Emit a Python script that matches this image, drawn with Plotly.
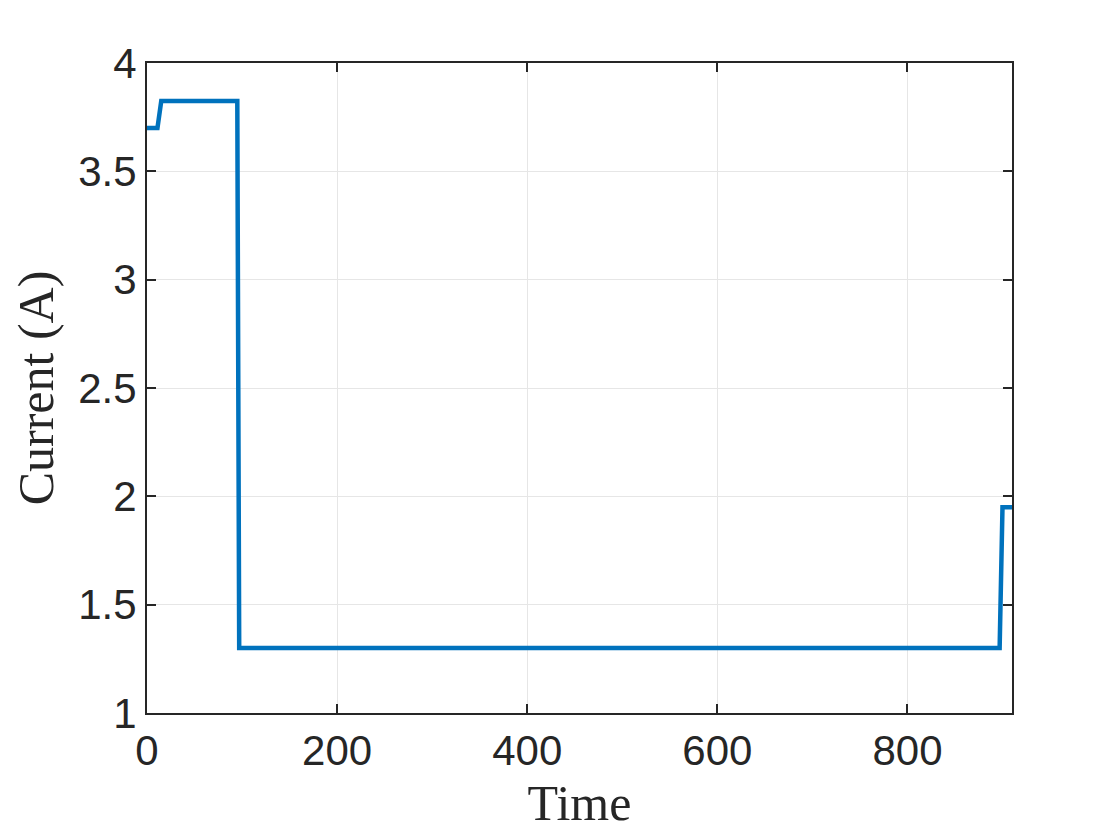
import plotly.graph_objects as go

# Current step profile
time = [0, 11, 15, 95, 97, 897, 900, 910]
current = [3.7, 3.7, 3.825, 3.825, 1.3, 1.3, 1.95, 1.95]

x_ticks = [0, 200, 400, 600, 800]
y_ticks = [1, 1.5, 2, 2.5, 3, 3.5, 4]
y_labels = ["1", "1.5", "2", "2.5", "3", "3.5", "4"]

AXIS_COLOR = "#262626"
TICK_FONT = dict(family="Liberation Sans, Arial, sans-serif", size=42, color=AXIS_COLOR)
TITLE_FONT = dict(family="Liberation Serif, Times New Roman, serif", size=50, color=AXIS_COLOR)

fig = go.Figure()
fig.add_trace(go.Scatter(
    x=time, y=current, mode="lines",
    line=dict(color="#0072BD", width=4.5),
    showlegend=False,
))

axis_common = dict(
    showline=True, linecolor=AXIS_COLOR, linewidth=2,
    mirror="allticks", ticks="inside", ticklen=9, tickwidth=2, tickcolor=AXIS_COLOR,
    showgrid=True, gridcolor="#e6e6e6", gridwidth=1,
    zeroline=False, tickfont=TICK_FONT,
)

fig.update_xaxes(
    range=[0, 910], tickvals=x_ticks,
    title=dict(text="Time", font=TITLE_FONT, standoff=12),
    **axis_common,
)
fig.update_yaxes(
    range=[1, 4], tickvals=y_ticks, ticktext=y_labels,
    title=dict(text="Current (A)", font=TITLE_FONT, standoff=18),
    **axis_common,
)

fig.update_layout(
    width=1120, height=840,
    margin=dict(l=139, r=116, t=55, b=135, autoexpand=False),
    paper_bgcolor="white", plot_bgcolor="white",
)

fig.write_html("out.html")
